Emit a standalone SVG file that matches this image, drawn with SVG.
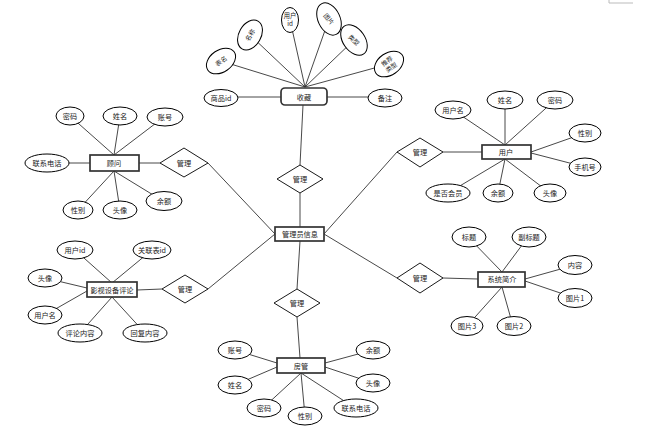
<svg xmlns="http://www.w3.org/2000/svg" width="658" height="430" viewBox="0 0 658 430">
<style>
.e{fill:#fff;stroke:#000;stroke-width:1}
.r{fill:#fff;stroke:#333;stroke-width:1.7}
.d{fill:#fff;stroke:#000;stroke-width:0.9}
.c line{stroke:#333;stroke-width:0.9}
text{font-family:"Noto Sans CJK SC","Noto Sans",sans-serif;font-size:7.2px;fill:#222;text-anchor:middle;dominant-baseline:central}
.s{font-size:6.3px}
</style>
<rect width="658" height="430" fill="#fff"/>
<path d="M609 0V3H633" fill="none" stroke="#bbb" stroke-width="1"/>
<g id="connectors" class="c">
<line x1="221" y1="61" x2="305" y2="87"/>
<line x1="250" y1="35" x2="305" y2="87"/>
<line x1="290" y1="20" x2="305" y2="87"/>
<line x1="329" y1="19" x2="305" y2="87"/>
<line x1="354" y1="40" x2="305" y2="87"/>
<line x1="389" y1="64" x2="305" y2="87"/>
<line x1="238" y1="97" x2="281" y2="97"/>
<line x1="327" y1="97" x2="368" y2="97"/>
<line x1="303" y1="105" x2="300" y2="165"/>
<line x1="300" y1="193" x2="300" y2="227"/>
<line x1="300" y1="241" x2="297" y2="289"/>
<line x1="297" y1="317" x2="300" y2="358"/>
<line x1="275" y1="234" x2="208" y2="163"/>
<line x1="275" y1="234" x2="208" y2="289"/>
<line x1="324" y1="234" x2="397" y2="152"/>
<line x1="324" y1="234" x2="397" y2="278"/>
<line x1="160" y1="163" x2="139" y2="163"/>
<line x1="69" y1="163" x2="90" y2="163"/>
<line x1="70" y1="116" x2="114" y2="155"/>
<line x1="120" y1="116" x2="114" y2="155"/>
<line x1="164" y1="117" x2="114" y2="155"/>
<line x1="78" y1="210" x2="114" y2="171"/>
<line x1="120" y1="210" x2="114" y2="171"/>
<line x1="163" y1="201" x2="114" y2="171"/>
<line x1="443" y1="152" x2="482" y2="152"/>
<line x1="453" y1="110" x2="505" y2="145"/>
<line x1="505" y1="100" x2="505" y2="145"/>
<line x1="555" y1="100" x2="505" y2="145"/>
<line x1="585" y1="133" x2="531" y2="152"/>
<line x1="585" y1="167" x2="531" y2="153"/>
<line x1="448" y1="193" x2="505" y2="159"/>
<line x1="498" y1="193" x2="505" y2="159"/>
<line x1="550" y1="193" x2="505" y2="159"/>
<line x1="137" y1="290" x2="162" y2="289"/>
<line x1="75" y1="250" x2="112" y2="283"/>
<line x1="152" y1="250" x2="112" y2="283"/>
<line x1="45" y1="278" x2="87" y2="288"/>
<line x1="45" y1="315" x2="87" y2="291"/>
<line x1="80" y1="333" x2="112" y2="297"/>
<line x1="145" y1="333" x2="112" y2="297"/>
<line x1="443" y1="278" x2="478" y2="279"/>
<line x1="468" y1="237" x2="502" y2="272"/>
<line x1="528" y1="237" x2="502" y2="272"/>
<line x1="575" y1="265" x2="525" y2="279"/>
<line x1="575" y1="298" x2="525" y2="281"/>
<line x1="467" y1="326" x2="502" y2="287"/>
<line x1="513" y1="326" x2="502" y2="287"/>
<line x1="235" y1="350" x2="277" y2="363"/>
<line x1="235" y1="385" x2="277" y2="367"/>
<line x1="373" y1="350" x2="325" y2="363"/>
<line x1="373" y1="383" x2="325" y2="367"/>
<line x1="263" y1="408" x2="301" y2="373"/>
<line x1="305" y1="416" x2="301" y2="373"/>
<line x1="355" y1="408" x2="301" y2="373"/>
</g>

<g id="shoucang"><rect class="r" x="281" y="88" width="46" height="17" rx="4"/><text x="304" y="97">收藏</text></g>
<g id="sc-spid"><ellipse class="e" cx="221" cy="98" rx="17" ry="8.5"/><text x="221" y="98">商品id</text></g>
<g id="sc-beizhu"><ellipse class="e" cx="385" cy="98" rx="17" ry="9"/><text x="385" y="98">备注</text></g>
<g id="sc-biaoming" transform="translate(221 61) rotate(-35)"><ellipse class="e" cx="0" cy="0" rx="16" ry="11"/><text class="s" x="0" y="0">表名</text></g>
<g id="sc-mingcheng" transform="translate(250 35) rotate(-60)"><ellipse class="e" cx="0" cy="0" rx="16" ry="11"/><text class="s" x="0" y="0">名称</text></g>
<g id="sc-yonghuid"><ellipse class="e" cx="290" cy="20" rx="8.5" ry="12.5"/><text class="s" x="290" y="15.5">用户</text><text class="s" x="290" y="23.5">id</text></g>
<g id="sc-tupian" transform="translate(329 19) rotate(65)"><ellipse class="e" cx="0" cy="0" rx="17" ry="11"/><text class="s" x="0" y="0" transform="rotate(-15)">图片</text></g>
<g id="sc-leixing" transform="translate(354 40) rotate(55)"><ellipse class="e" cx="0" cy="0" rx="17" ry="11"/><text class="s" x="0" y="0" transform="rotate(-12)">类型</text></g>
<g id="sc-tuijian" transform="translate(389 64) rotate(-35)"><ellipse class="e" cx="0" cy="0" rx="16" ry="11"/><text class="s" x="0" y="-3.6">推荐</text><text class="s" x="0" y="3.8">类型</text></g>

<g id="guanli-top"><polygon class="d" points="300,165 323,179 300,193 277,179"/><text x="300" y="179">管理</text></g>
<g id="admin"><rect class="r" x="275" y="227" width="49" height="14"/><text x="300" y="234">管理员信息</text></g>
<g id="guanli-bottom"><polygon class="d" points="297,289 320,303 297,317 274,303"/><text x="297" y="303">管理</text></g>
<g id="guanli-gw"><polygon class="d" points="184,148 208,163 184,177 160,163"/><text x="184" y="163">管理</text></g>
<g id="guanli-pl"><polygon class="d" points="185,275 208,289 185,303 162,289"/><text x="185" y="289">管理</text></g>
<g id="guanli-yh"><polygon class="d" points="420,138 443,152 420,167 397,152"/><text x="420" y="152">管理</text></g>
<g id="guanli-xt"><polygon class="d" points="420,263 443,278 420,293 397,278"/><text x="420" y="278">管理</text></g>

<g id="guwen"><rect class="r" x="90" y="155" width="49" height="16"/><text x="114" y="163">顾问</text></g>
<g id="gw-mima"><ellipse class="e" cx="70" cy="116" rx="14" ry="9"/><text x="70" y="116">密码</text></g>
<g id="gw-xingming"><ellipse class="e" cx="120" cy="116" rx="17" ry="9"/><text x="120" y="116">姓名</text></g>
<g id="gw-zhanghao"><ellipse class="e" cx="165" cy="117" rx="18" ry="9"/><text x="165" y="117">账号</text></g>
<g id="gw-dianhua"><ellipse class="e" cx="47" cy="163" rx="22" ry="9"/><text x="47" y="163">联系电话</text></g>
<g id="gw-xingbie"><ellipse class="e" cx="78" cy="210" rx="15" ry="9"/><text x="78" y="210">性别</text></g>
<g id="gw-touxiang"><ellipse class="e" cx="120" cy="210" rx="17" ry="9"/><text x="120" y="210">头像</text></g>
<g id="gw-yue"><ellipse class="e" cx="164" cy="201" rx="18" ry="9.5"/><text x="164" y="201">余额</text></g>

<g id="yonghu"><rect class="r" x="482" y="145" width="49" height="14"/><text x="506" y="152">用户</text></g>
<g id="yh-yonghuming"><ellipse class="e" cx="453" cy="110" rx="18" ry="9"/><text x="453" y="110">用户名</text></g>
<g id="yh-xingming"><ellipse class="e" cx="505" cy="100" rx="18" ry="9"/><text x="505" y="100">姓名</text></g>
<g id="yh-mima"><ellipse class="e" cx="555" cy="100" rx="18" ry="9"/><text x="555" y="100">密码</text></g>
<g id="yh-xingbie"><ellipse class="e" cx="585" cy="133" rx="16" ry="9"/><text x="585" y="133">性别</text></g>
<g id="yh-shouji"><ellipse class="e" cx="585" cy="167" rx="16" ry="9"/><text x="585" y="167">手机号</text></g>
<g id="yh-huiyuan"><ellipse class="e" cx="448" cy="193" rx="22" ry="9"/><text x="448" y="193">是否会员</text></g>
<g id="yh-yue"><ellipse class="e" cx="498" cy="193" rx="15" ry="9"/><text x="498" y="193">余额</text></g>
<g id="yh-touxiang"><ellipse class="e" cx="550" cy="193" rx="16" ry="9"/><text x="550" y="193">头像</text></g>

<g id="pinglun"><rect class="r" x="87" y="282" width="50" height="15"/><text x="112" y="290">影视设备评论</text></g>
<g id="pl-yonghuid"><ellipse class="e" cx="75" cy="250" rx="18" ry="9"/><text x="75" y="250">用户id</text></g>
<g id="pl-guanlian"><ellipse class="e" cx="152" cy="250" rx="19" ry="9"/><text x="152" y="250">关联表id</text></g>
<g id="pl-touxiang"><ellipse class="e" cx="45" cy="278" rx="17" ry="9"/><text x="45" y="278">头像</text></g>
<g id="pl-yonghuming"><ellipse class="e" cx="45" cy="315" rx="17" ry="9"/><text x="45" y="315">用户名</text></g>
<g id="pl-pinglunneirong"><ellipse class="e" cx="80" cy="333" rx="22" ry="9"/><text x="80" y="333">评论内容</text></g>
<g id="pl-huifuneirong"><ellipse class="e" cx="145" cy="333" rx="22" ry="9"/><text x="145" y="333">回复内容</text></g>

<g id="xitong"><rect class="r" x="478" y="272" width="47" height="15"/><text x="502" y="279">系统简介</text></g>
<g id="xt-biaoti"><ellipse class="e" cx="469" cy="237" rx="17" ry="10"/><text x="469" y="237">标题</text></g>
<g id="xt-fubiaoti"><ellipse class="e" cx="529" cy="237" rx="17" ry="10"/><text x="529" y="237">副标题</text></g>
<g id="xt-neirong"><ellipse class="e" cx="575" cy="265" rx="17" ry="9.5"/><text x="575" y="265">内容</text></g>
<g id="xt-tupian1"><ellipse class="e" cx="575" cy="298" rx="17" ry="9.5"/><text x="575" y="298">图片1</text></g>
<g id="xt-tupian3"><ellipse class="e" cx="467" cy="326" rx="16" ry="9.5"/><text x="467" y="326">图片3</text></g>
<g id="xt-tupian2"><ellipse class="e" cx="514" cy="326" rx="17" ry="9.5"/><text x="514" y="326">图片2</text></g>

<g id="fangguan"><rect class="r" x="277" y="358" width="48" height="15"/><text x="301" y="366">房管</text></g>
<g id="fg-zhanghao"><ellipse class="e" cx="235" cy="350" rx="17" ry="9"/><text x="235" y="350">账号</text></g>
<g id="fg-xingming"><ellipse class="e" cx="235" cy="385" rx="17" ry="9"/><text x="235" y="385">姓名</text></g>
<g id="fg-mima"><ellipse class="e" cx="264" cy="408" rx="17" ry="9"/><text x="264" y="408">密码</text></g>
<g id="fg-xingbie"><ellipse class="e" cx="305" cy="416" rx="17" ry="9"/><text x="305" y="416">性别</text></g>
<g id="fg-dianhua"><ellipse class="e" cx="356" cy="408" rx="22" ry="9"/><text x="356" y="408">联系电话</text></g>
<g id="fg-yue"><ellipse class="e" cx="373" cy="350" rx="17" ry="9"/><text x="373" y="350">余额</text></g>
<g id="fg-touxiang"><ellipse class="e" cx="373" cy="383" rx="17" ry="9"/><text x="373" y="383">头像</text></g>
</svg>
